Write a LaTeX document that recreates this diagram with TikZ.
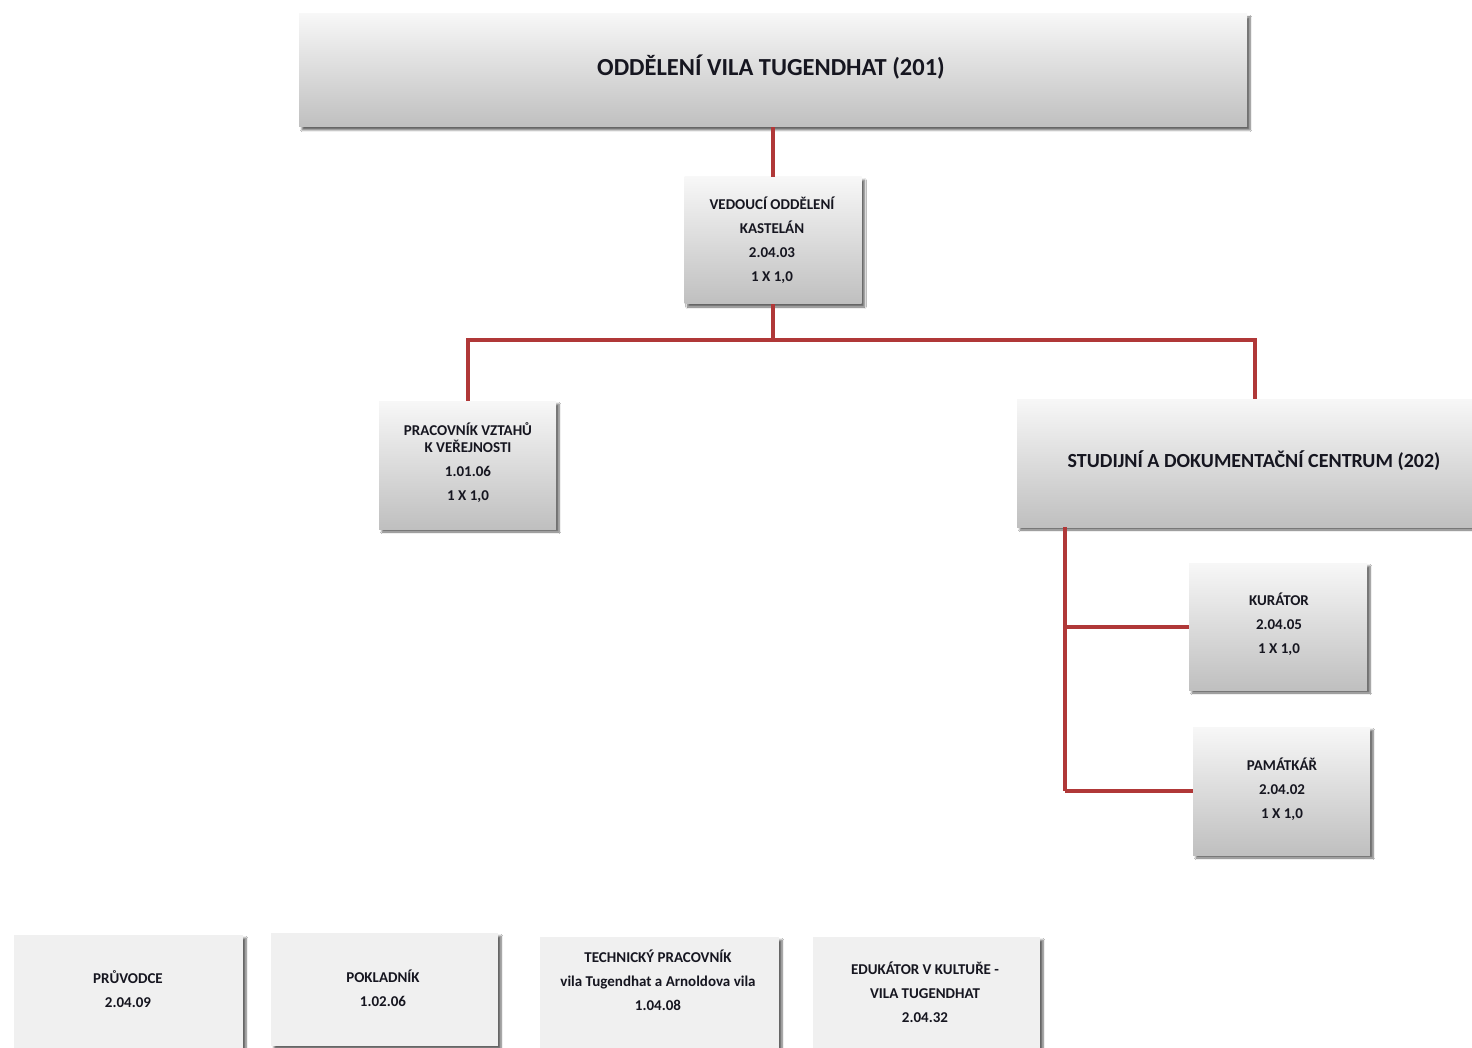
\documentclass[tikz,border=0pt]{standalone}
\usepackage{fontspec}
\setmainfont{Carlito}
\usetikzlibrary{shadows.blur}
\definecolor{connc}{RGB}{176,56,56}
\definecolor{txt}{RGB}{22,22,32}
\definecolor{flatc}{RGB}{240,240,240}
\begin{document}
\begin{tikzpicture}[x=1pt,y=-1pt,
  shad/.style={blur shadow={shadow xshift=3pt, shadow yshift=-3pt, shadow blur steps=6, shadow opacity=60}},
  gbox/.style={shad, draw=none, top color=white!97!black, bottom color=black!25, inner sep=0pt},
  fbox/.style={shad, draw=none, fill=flatc, inner sep=0pt},
  lbl/.style={text=txt, font=\bfseries\fontsize{15}{24}\selectfont, align=center, inner sep=0pt},
  biglbl/.style={text=txt, inner sep=0pt},
  connl/.style={draw=connc, line width=4pt}
]
\useasboundingbox (0,0) rectangle (1472,1048);
\clip (0,0) rectangle (1472,1048);
\fill[white] (0,0) rectangle (1472,1048);

% boxes
\node[gbox, minimum width=948pt, minimum height=113pt] (top) at (773,70.5) {};
\node[gbox, minimum width=177pt, minimum height=127pt] (ved) at (773,240.5) {};
\node[gbox, minimum width=177pt, minimum height=128pt] (prac) at (467.5,465) {};
\node[gbox, minimum width=475pt, minimum height=128pt] (stud) at (1254.5,463) {};
\node[gbox, minimum width=178pt, minimum height=127pt] (kur) at (1278,626.5) {};
\node[gbox, minimum width=177pt, minimum height=128pt] (pam) at (1281.5,791) {};
\node[fbox, minimum width=229pt, minimum height=113pt] (pruv) at (128.5,991.5) {};
\node[fbox, minimum width=227pt, minimum height=113pt] (pokl) at (384.5,989.5) {};
\node[fbox, minimum width=239pt, minimum height=113pt] (tech) at (659.5,993.5) {};
\node[fbox, minimum width=227pt, minimum height=113pt] (eduk) at (926.5,993.5) {};

% texts
\node[biglbl, font=\bfseries\fontsize{24.5}{28}\selectfont] (toptxt) at (771,67) {ODDĚLENÍ VILA TUGENDHAT (201)};
\node[biglbl, font=\bfseries\fontsize{20}{24}\selectfont] (studtxt) at (1254,461) {STUDIJNÍ A DOKUMENTAČNÍ CENTRUM (202)};
\node[lbl] (vedtxt) at (772,240) {VEDOUCÍ ODDĚLENÍ\\KASTELÁN\\2.04.03\\1 X 1,0};
\node[lbl] (practxt) at (468,463) {PRACOVNÍK VZTAHŮ\\[-7pt]K VEŘEJNOSTI\\1.01.06\\1 X 1,0};
\node[lbl] (kurtxt) at (1279,624) {KURÁTOR\\2.04.05\\1 X 1,0};
\node[lbl] (pamtxt) at (1282,789) {PAMÁTKÁŘ\\2.04.02\\1 X 1,0};
\node[lbl] (pruvtxt) at (128,989) {PRŮVODCE\\2.04.09};
\node[lbl] (pokltxt) at (383,988) {POKLADNÍK\\1.02.06};
\node[lbl] (techtxt) at (658,980) {TECHNICKÝ PRACOVNÍK\\vila Tugendhat a Arnoldova vila\\1.04.08};
\node[lbl] (eduktxt) at (925,992) {EDUKÁTOR V KULTUŘE -\\VILA TUGENDHAT\\2.04.32};

% connectors
\coordinate (j1) at (773,340);
\coordinate (sx) at (1065,791);
\draw[connl] (top.south) -- (ved.north);
\draw[connl] (ved.south) -- (j1);
\draw[connl] (j1) -| (prac.north);
\draw[connl] (j1) -| (stud.north);
\draw[connl] (stud.south -| sx) -- (sx);
\draw[connl] (kur.west) -- (kur.west -| sx);
\draw[connl] (pam.west) -- (sx);
\end{tikzpicture}
\end{document}
